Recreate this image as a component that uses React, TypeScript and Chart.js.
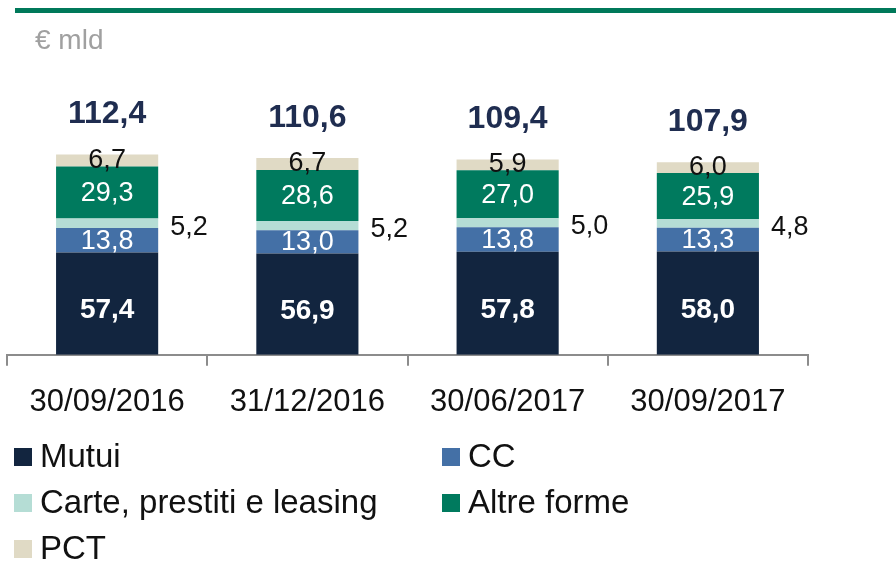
import React, { useEffect, useRef } from "react";
import { Chart, registerables } from "chart.js";
Chart.register(...registerables);

const categories = ["30/09/2016", "31/12/2016", "30/06/2017", "30/09/2017"];
const mutui = [57.4, 56.9, 57.8, 58.0];
const cc = [13.8, 13.0, 13.8, 13.3];
const carte = [5.2, 5.2, 5.0, 4.8];
const altre = [29.3, 28.6, 27.0, 25.9];
const pct = [6.7, 6.7, 5.9, 6.0];
const totals = [112.4, 110.6, 109.4, 107.9];
const seriesNames = ["Mutui", "CC", "Carte, prestiti e leasing", "Altre forme", "PCT"];
const seriesColors = ["#12253f", "#4470a6", "#b5ddd5", "#007a5e", "#e0dac5"];
const seriesData = [mutui, cc, carte, altre, pct];
const unitLabel = "€ mld";

const fmt = (v: number) => v.toFixed(1).replace(".", ",");
const FONT = "'Liberation Sans', Arial, sans-serif";

const headerPlugin = {
  id: "header",
  beforeDraw(chart: any) {
    const ctx = chart.ctx;
    ctx.save();
    ctx.fillStyle = "#00795a";
    ctx.fillRect(15, 8, 881, 5);
    ctx.fillStyle = "#a0a0a0";
    ctx.font = `28px ${FONT}`;
    ctx.textAlign = "left";
    ctx.textBaseline = "middle";
    ctx.fillText(unitLabel, 35, 41);
    ctx.restore();
  },
};

const labelPlugin = {
  id: "labels",
  afterDatasetsDraw(chart: any) {
    const ctx = chart.ctx;
    ctx.save();
    ctx.textBaseline = "middle";
    chart.data.datasets.forEach((ds: any, di: number) => {
      const meta = chart.getDatasetMeta(di);
      meta.data.forEach((el: any, i: number) => {
        const txt = fmt(ds.data[i]);
        const cy = (el.y + el.base) / 2;
        ctx.textAlign = "center";
        if (di === 0) {
          ctx.font = `bold 28px ${FONT}`;
          ctx.fillStyle = "#ffffff";
          ctx.fillText(txt, el.x, cy + 7);
        } else if (di === 1 || di === 3) {
          ctx.font = `27px ${FONT}`;
          ctx.fillStyle = "#ffffff";
          ctx.fillText(txt, el.x, cy + 1);
        } else if (di === 2) {
          ctx.font = `27px ${FONT}`;
          ctx.fillStyle = "#111111";
          ctx.textAlign = "left";
          ctx.fillText(txt, el.x + el.width / 2 + 12, cy + 4);
        } else {
          ctx.font = `27px ${FONT}`;
          ctx.fillStyle = "#111111";
          ctx.fillText(txt, el.x, cy);
        }
      });
    });
    const top = chart.getDatasetMeta(chart.data.datasets.length - 1);
    top.data.forEach((el: any, i: number) => {
      ctx.font = `bold 32px ${FONT}`;
      ctx.fillStyle = "#1f2d50";
      ctx.textAlign = "center";
      ctx.fillText(fmt(totals[i]), el.x, el.y - 40);
    });
    ctx.restore();
  },
};

const legendPlugin = {
  id: "customLegend",
  afterDraw(chart: any) {
    const ctx = chart.ctx;
    ctx.save();
    const cols = [14, 442];
    const rows = [457, 503, 549];
    chart.data.datasets.forEach((ds: any, i: number) => {
      const x = cols[i % 2];
      const y = rows[Math.floor(i / 2)];
      ctx.fillStyle = ds.backgroundColor;
      ctx.fillRect(x, y - 9, 18, 18);
      ctx.fillStyle = "#111111";
      ctx.font = `33px ${FONT}`;
      ctx.textAlign = "left";
      ctx.textBaseline = "middle";
      ctx.fillText(ds.label, x + 26, y + 1);
    });
    ctx.restore();
  },
};

export default function App() {
  const ref = useRef<HTMLCanvasElement | null>(null);
  useEffect(() => {
    document.body.style.margin = "0";
    const chart = new Chart(ref.current as HTMLCanvasElement, {
      type: "bar",
      data: {
        labels: categories,
        datasets: seriesNames.map((name, i) => ({
          label: name,
          data: seriesData[i],
          backgroundColor: seriesColors[i],
          borderWidth: 0,
          barPercentage: 0.51,
          categoryPercentage: 1,
        })),
      },
      options: {
        responsive: false,
        animation: false,
        layout: { padding: { left: 7, right: 88, top: 50, bottom: 124 } },
        plugins: { legend: { display: false }, tooltip: { enabled: false } },
        scales: {
          x: {
            stacked: true,
            grid: {
              display: true,
              drawOnChartArea: false,
              drawTicks: true,
              tickLength: 11,
              color: "#8c8c8c",
              lineWidth: 2,
              offset: true,
            },
            border: { display: true, color: "#8c8c8c", width: 2 },
            ticks: {
              color: "#111111",
              font: { family: FONT, size: 31 },
              padding: 18,
            },
          },
          y: { stacked: true, display: false, min: 0, max: 171 },
        },
      },
      plugins: [headerPlugin, labelPlugin, legendPlugin],
    });
    return () => chart.destroy();
  }, []);
  return (
    <div style={{ position: "absolute", left: 0, top: 0, width: 896, height: 563, background: "#fff" }}>
      <canvas ref={ref} width={896} height={563} style={{ display: "block" }} />
    </div>
  );
}
